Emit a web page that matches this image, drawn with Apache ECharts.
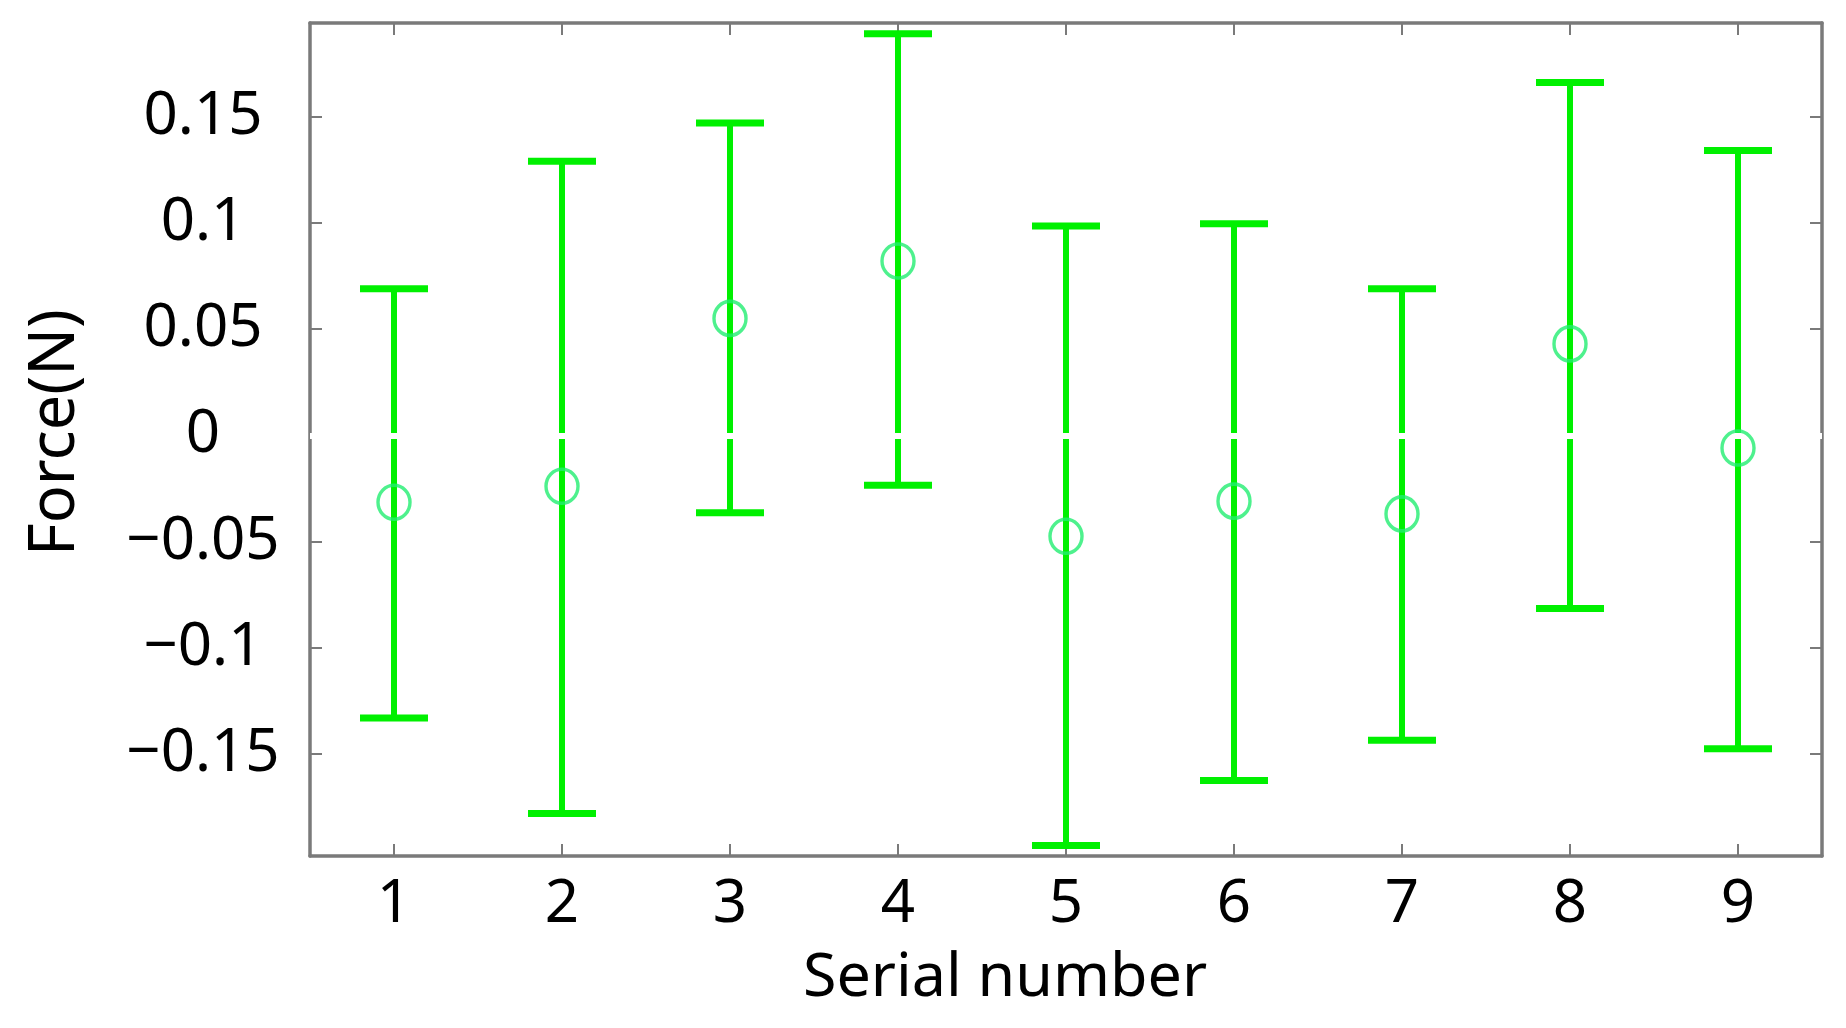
<!DOCTYPE html>
<html>
<head>
<meta charset="utf-8">
<script src="https://cdn.jsdelivr.net/npm/echarts@6/dist/echarts.min.js"></script>
<style>
html,body{margin:0;padding:0;background:#fff;}
#chart{width:1846px;height:1028px;}
</style>
</head>
<body>
<div id="chart"></div>
<script>
// ---- data ----
const serials = ['1','2','3','4','5','6','7','8','9'];
const means = [-0.0315, -0.024, 0.055, 0.082, -0.0475, -0.031, -0.037, 0.043, -0.006];
const upper = [0.069, 0.129, 0.147, 0.189, 0.0985, 0.0995, 0.069, 0.166, 0.134];
const lower = [-0.133, -0.178, -0.0365, -0.0235, -0.193, -0.1625, -0.1435, -0.0815, -0.1475];
const yTicks = [-0.15, -0.1, -0.05, 0, 0.05, 0.1, 0.15];
const yMin = -0.198, yMax = 0.194;

const green = '#00f000';
const circleGreen = '#22ee70';
const frame = '#7a7a7a';
const font = 'Noto Sans';

const errData = serials.map((s, i) => [i, lower[i], upper[i]]);
const meanData = serials.map((s, i) => [i, means[i]]);

function fmt(v) {
  return (v < 0 ? '\u2212' : '') + String(Math.abs(v));
}

const chart = echarts.init(document.getElementById('chart'), null, {renderer: 'canvas'});
chart.setOption({
  backgroundColor: '#fff',
  animation: false,
  grid: {left: 310, top: 23, right: 24, bottom: 172, containLabel: false},
  xAxis: [{
    type: 'category',
    data: serials,
    boundaryGap: true,
    position: 'bottom',
    axisLine: {show: true, onZero: false, lineStyle: {color: frame, width: 3.5}},
    axisTick: {show: true, inside: true, alignWithLabel: true, length: 12, lineStyle: {color: frame, width: 2}},
    axisLabel: {show: true, margin: 19, fontSize: 60, fontFamily: font, color: '#000'},
    splitLine: {show: false},
    name: 'Serial number',
    nameLocation: 'middle',
    nameGap: 92,
    nameTextStyle: {fontSize: 61, fontFamily: font, color: '#000', padding: [0, 122, 0, 0]}
  }, {
    type: 'category',
    data: serials,
    boundaryGap: true,
    position: 'top',
    axisLine: {show: true, onZero: false, lineStyle: {color: frame, width: 3.5}},
    axisTick: {show: true, inside: true, alignWithLabel: true, length: 12, lineStyle: {color: frame, width: 2}},
    axisLabel: {show: false},
    splitLine: {show: false}
  }],
  yAxis: [{
    type: 'value',
    min: yMin, max: yMax,
    position: 'left',
    axisLine: {show: true, onZero: false, lineStyle: {color: frame, width: 3.5}},
    axisTick: {show: true, inside: true, length: 12, customValues: yTicks, lineStyle: {color: frame, width: 2}},
    axisLabel: {show: true, customValues: yTicks, formatter: fmt, align: 'center', margin: 107,
      fontSize: 60, fontFamily: font, color: '#000', padding: [0, 0, 24, 0]},
    splitLine: {show: false},
    name: 'Force(N)',
    nameLocation: 'middle',
    nameRotate: 90,
    nameGap: 222,
    nameTextStyle: {fontSize: 63, fontFamily: font, color: '#000', padding: [0, 0, 0, 14]}
  }, {
    type: 'value',
    min: yMin, max: yMax,
    position: 'right',
    axisLine: {show: true, onZero: false, lineStyle: {color: frame, width: 3.5}},
    axisTick: {show: true, inside: true, length: 12, customValues: yTicks, lineStyle: {color: frame, width: 2}},
    axisLabel: {show: false},
    splitLine: {show: false}
  }],
  series: [{
    type: 'custom',
    xAxisIndex: 0, yAxisIndex: 0,
    data: errData,
    z: 3,
    renderItem: function (params, api) {
      const x = api.value(0);
      const lo = api.coord([x, api.value(1)]);
      const hi = api.coord([x, api.value(2)]);
      const hw = 34;
      const style = {stroke: green, lineWidth: 6, fill: null};
      const capStyle = {stroke: green, lineWidth: 7, fill: null};
      return {
        type: 'group',
        children: [
          {type: 'line', shape: {x1: hi[0], y1: hi[1], x2: lo[0], y2: lo[1]}, style: style},
          {type: 'line', shape: {x1: hi[0] - hw, y1: hi[1], x2: hi[0] + hw, y2: hi[1]}, style: capStyle},
          {type: 'line', shape: {x1: lo[0] - hw, y1: lo[1], x2: lo[0] + hw, y2: lo[1]}, style: capStyle}
        ]
      };
    },
    markLine: {
      silent: true,
      symbol: ['none', 'none'],
      label: {show: false},
      lineStyle: {color: '#ffffff', width: 6, type: 'solid', opacity: 1},
      data: [{yAxis: 0}]
    }
  }, {
    type: 'scatter',
    xAxisIndex: 0, yAxisIndex: 0,
    data: meanData,
    symbol: 'circle',
    symbolSize: [32, 34],
    z: 5,
    itemStyle: {color: 'rgba(0,0,0,0)', borderColor: circleGreen, borderWidth: 3.5}
  }]
});
</script>
</body>
</html>
